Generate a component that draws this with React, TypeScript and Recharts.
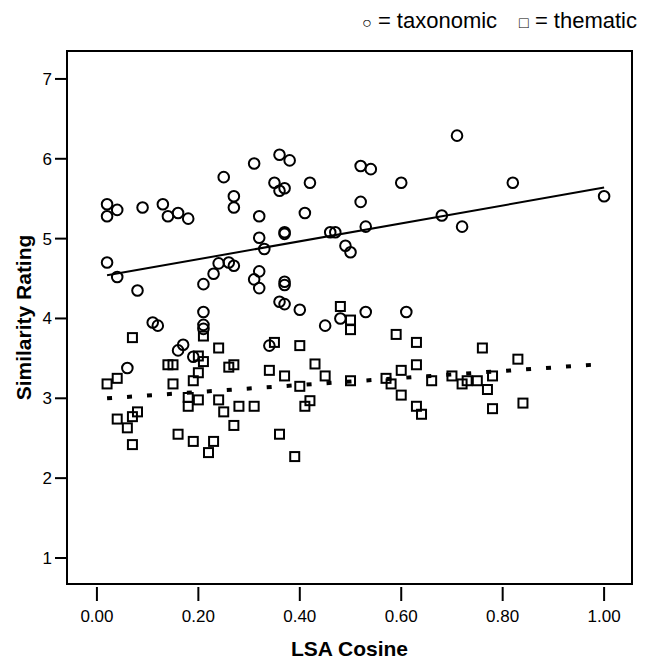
import React from "react";
import {
  ScatterChart,
  Scatter,
  XAxis,
  YAxis,
  ReferenceArea,
  ReferenceLine,
} from "recharts";

// taxonomic pairs (circles)
const taxX = [
  0.02, 0.02, 0.04, 0.09, 0.13, 0.14, 0.16, 0.18, 0.25, 0.27, 0.27, 0.31, 0.32, 0.32,
  0.02, 0.04, 0.08, 0.21, 0.23, 0.24, 0.26, 0.27, 0.31, 0.32, 0.32, 0.21, 0.36, 0.38,
  0.35, 0.36, 0.37, 0.42, 0.52, 0.54, 0.6, 0.52, 0.41, 0.33, 0.37, 0.37, 0.46, 0.47,
  0.53, 0.68, 0.49, 0.5, 0.37, 0.37, 0.36, 0.37, 0.4, 0.53, 0.61, 0.71, 0.82, 1.0,
  0.72, 0.21, 0.21, 0.11, 0.12, 0.17, 0.16, 0.19, 0.06, 0.45, 0.48, 0.34,
];
const taxY = [
  5.43, 5.28, 5.36, 5.39, 5.43, 5.28, 5.32, 5.25, 5.77, 5.53, 5.39, 5.94, 5.28, 5.01,
  4.7, 4.52, 4.35, 4.43, 4.56, 4.69, 4.7, 4.66, 4.49, 4.38, 4.59, 4.08, 6.05, 5.98,
  5.7, 5.6, 5.63, 5.7, 5.91, 5.87, 5.7, 5.46, 5.32, 4.87, 5.08, 5.06, 5.08, 5.08,
  5.15, 5.29, 4.91, 4.83, 4.46, 4.42, 4.21, 4.18, 4.11, 4.08, 4.08, 6.29, 5.7, 5.53,
  5.15, 3.92, 3.87, 3.95, 3.91, 3.67, 3.6, 3.52, 3.38, 3.91, 4.0, 3.66,
];

// thematic pairs (squares)
const themX = [
  0.07, 0.02, 0.04, 0.04, 0.06, 0.07, 0.08, 0.07, 0.14, 0.15, 0.15, 0.16, 0.19, 0.18,
  0.18, 0.2, 0.2, 0.21, 0.2, 0.21, 0.19, 0.22, 0.23, 0.24, 0.24, 0.25, 0.26, 0.27,
  0.28, 0.27, 0.31, 0.48, 0.5, 0.5, 0.35, 0.4, 0.59, 0.63, 0.63, 0.34, 0.37, 0.43,
  0.45, 0.4, 0.5, 0.57, 0.58, 0.6, 0.66, 0.41, 0.42, 0.6, 0.63, 0.64, 0.36, 0.39,
  0.76, 0.83, 0.7, 0.72, 0.73, 0.75, 0.77, 0.78, 0.78, 0.84,
];
const themY = [
  3.76, 3.18, 3.25, 2.74, 2.63, 2.77, 2.83, 2.42, 3.42, 3.42, 3.18, 2.55, 3.22, 3.01,
  2.9, 2.98, 3.32, 3.46, 3.53, 3.78, 2.46, 2.32, 2.46, 3.63, 2.98, 2.83, 3.39, 3.42,
  2.9, 2.66, 2.9, 4.15, 3.98, 3.86, 3.7, 3.66, 3.8, 3.7, 3.42, 3.35, 3.28, 3.43,
  3.28, 3.15, 3.22, 3.25, 3.18, 3.35, 3.22, 2.9, 2.97, 3.04, 2.9, 2.8, 2.55, 2.27,
  3.63, 3.49, 3.28, 3.18, 3.22, 3.22, 3.11, 3.28, 2.87, 2.94,
];

// fit lines (start / end)
const taxFitX = [0.02, 1.0];
const taxFitY = [4.54, 5.64];
const themFitX = [0.02, 1.0];
const themFitY = [3.0, 3.43];

const xTicks = [0, 0.2, 0.4, 0.6, 0.8, 1.0];
const yTicks = [1, 2, 3, 4, 5, 6, 7];
const xDomain = [-0.059, 1.055];
const yDomain = [0.674, 7.35];

const taxData = taxX.map((x, i) => ({ x, y: taxY[i] }));
const themData = themX.map((x, i) => ({ x, y: themY[i] }));

const FONT = "'Liberation Sans', Arial, sans-serif";

const Circle = (props: any) => (
  <circle cx={props.cx} cy={props.cy} r={5.3} fill="none" stroke="#000" strokeWidth={2} />
);

const Square = (props: any) => (
  <rect
    x={props.cx - 4.5}
    y={props.cy - 4.5}
    width={9}
    height={9}
    fill="none"
    stroke="#000"
    strokeWidth={2}
  />
);

const XTick = (props: any) => {
  const { x, y, payload } = props;
  return (
    <g>
      <line x1={x} x2={x} y1={y - 15} y2={y - 1} stroke="#000" strokeWidth={2} />
      <text x={x} y={y + 20} textAnchor="middle" fontSize={17} fontFamily={FONT} fill="#000">
        {payload.value.toFixed(2)}
      </text>
    </g>
  );
};

const App: React.FC = () => {
  return (
    <div style={{ position: "absolute", left: 0, top: 0, width: 649, height: 662, background: "#fff" }}>
      <svg width={649} height={40} style={{ position: "absolute", left: 0, top: 0 }}>
        <text x={637} y={28} textAnchor="end" fontFamily={FONT} fontSize={22} fill="#000">
          <tspan fontSize={16}>○</tspan>
          <tspan> = taxonomic</tspan>
          <tspan dx={22} fontSize={16}>□</tspan>
          <tspan> = thematic</tspan>
        </text>
      </svg>
      <ScatterChart
        width={649}
        height={662}
        margin={{ top: 51, right: 17, left: 0, bottom: 0 }}
        style={{ position: "absolute", left: 0, top: 0 }}
      >
        <XAxis
          type="number"
          dataKey="x"
          domain={xDomain}
          ticks={xTicks}
          allowDataOverflow
          height={78}
          axisLine={false}
          tickLine={false}
          tickSize={16}
          tick={<XTick />}
          label={{
            value: "LSA Cosine",
            position: "insideBottom",
            offset: 6,
            style: { fontFamily: FONT, fontSize: 21, fontWeight: "bold", fill: "#000" },
          }}
        />
        <YAxis
          type="number"
          dataKey="y"
          domain={yDomain}
          ticks={yTicks}
          allowDataOverflow
          width={67}
          axisLine={false}
          tickLine={{ stroke: "#000", strokeWidth: 2 }}
          tickSize={12}
          tickMargin={3}
          tick={{ fontFamily: FONT, fontSize: 17, fill: "#000" }}
          label={{
            value: "Similarity Rating",
            angle: -90,
            position: "insideLeft",
            offset: 24,
            style: {
              fontFamily: FONT,
              fontSize: 21,
              fontWeight: "bold",
              fill: "#000",
              textAnchor: "middle",
            },
          }}
        />
        <ReferenceArea
          x1={xDomain[0]}
          x2={xDomain[1]}
          y1={yDomain[0]}
          y2={yDomain[1]}
          fill="none"
          stroke="#000"
          strokeWidth={2}
          ifOverflow="visible"
        />
        <ReferenceLine
          segment={[
            { x: taxFitX[0], y: taxFitY[0] },
            { x: taxFitX[1], y: taxFitY[1] },
          ]}
          stroke="#000"
          strokeWidth={2}
        />
        <ReferenceLine
          segment={[
            { x: themFitX[0], y: themFitY[0] },
            { x: themFitX[1], y: themFitY[1] },
          ]}
          stroke="#000"
          strokeWidth={4}
          strokeDasharray="5 15"
        />
        <Scatter data={taxData} shape={<Circle />} isAnimationActive={false} />
        <Scatter data={themData} shape={<Square />} isAnimationActive={false} />
      </ScatterChart>
    </div>
  );
};

export default App;
